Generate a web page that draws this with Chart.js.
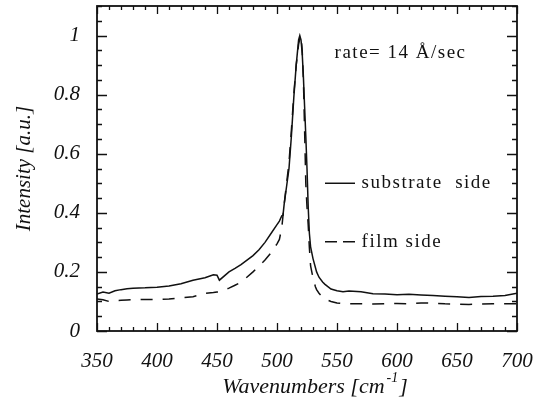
<!DOCTYPE html>
<html>
<head>
<meta charset="utf-8">
<script src="https://cdn.jsdelivr.net/npm/chart.js@4.4.0/dist/chart.umd.min.js"></script>
<style>
  body { margin: 0; background: #fff; }
  #wrap { width: 537px; height: 402px; position: relative; }
</style>
</head>
<body>
<div id="wrap"><canvas id="raman"></canvas></div>
<script>
// Raman spectra, values
var wavenumbers = [350, 355, 360, 365, 370, 375, 380, 390, 400, 410, 420, 430, 440,
  447, 450, 452, 460, 465, 470, 480, 485, 490, 495, 500, 502, 504, 505, 506, 508,
  510, 512, 514, 516, 518, 519, 520, 521, 522, 523, 524, 525, 526, 527, 528,
  530, 532, 533, 535, 538, 540, 545, 550, 555, 560, 570, 580, 590, 600, 610,
  620, 630, 640, 650, 660, 670, 680, 690, 700];

var substrateSide = [0.125, 0.132, 0.128, 0.136, 0.14, 0.143, 0.145, 0.146, 0.148, 0.152, 0.16, 0.172, 0.18,
  0.19, 0.189, 0.172, 0.2, 0.212, 0.225, 0.255, 0.275, 0.3, 0.33, 0.36, 0.372, 0.39, 0.392, 0.43, 0.49,
  0.55, 0.66, 0.79, 0.9, 0.985, 1.0, 0.985, 0.94, 0.86, 0.76, 0.66, 0.55, 0.42, 0.33, 0.285,
  0.245, 0.215, 0.2, 0.182, 0.166, 0.158, 0.142, 0.136, 0.133, 0.135, 0.133, 0.126, 0.125, 0.123, 0.124,
  0.122, 0.12, 0.118, 0.116, 0.113, 0.117, 0.118, 0.12, 0.128];

var filmSide = [0.108, 0.106, 0.1, 0.103, 0.104, 0.105, 0.106, 0.107, 0.107, 0.108, 0.112, 0.116, 0.127,
  0.13, 0.132, 0.133, 0.145, 0.155, 0.165, 0.2, 0.22, 0.24, 0.265, 0.295, 0.31, 0.35, 0.39, 0.43, 0.5,
  0.57, 0.68, 0.8, 0.9, 0.97, 0.99, 1.0, 0.95, 0.85, 0.68, 0.5, 0.42, 0.36, 0.28, 0.22,
  0.18, 0.15, 0.14, 0.128, 0.114, 0.108, 0.1, 0.095, 0.093, 0.092, 0.092, 0.091, 0.092, 0.093, 0.092,
  0.095, 0.094, 0.092, 0.091, 0.09, 0.091, 0.092, 0.092, 0.092];

var seriesNames = ["substrate  side", "film side"];
var xTicks = [350, 400, 450, 500, 550, 600, 650, 700];
var yTicks = [0, 0.2, 0.4, 0.6, 0.8, 1];
var rateNote = "rate= 14 \u00c5/sec";

function toPoints(ys) {
  return wavenumbers.map(function(x, i) { return { x: x, y: ys[i] }; });
}

// frame, inward ticks, legend and notes
var decor = {
  id: 'decor',
  afterDraw: function(chart) {
    var c = chart.ctx, a = chart.chartArea;
    var xs = chart.scales.x, ys = chart.scales.y;
    c.save();
    c.strokeStyle = '#111';
    c.lineWidth = 1.3;
    c.beginPath();
    for (var v = 350; v <= 700; v += 10) {
      var px = Math.round(xs.getPixelForValue(v)) + 0.5;
      var l = v % 50 === 0 ? 8 : 4;
      c.moveTo(px, a.bottom); c.lineTo(px, a.bottom - l);
      c.moveTo(px, a.top); c.lineTo(px, a.top + l);
    }
    for (var i = 0; i <= 22; i++) {
      var py = Math.round(ys.getPixelForValue(i * 0.05)) + 0.5;
      var ly = i % 4 === 0 ? 10 : 5;
      c.moveTo(a.left, py); c.lineTo(a.left + ly, py);
      c.moveTo(a.right, py); c.lineTo(a.right - ly, py);
    }
    c.stroke();
    c.lineWidth = 1.8;
    c.strokeRect(a.left, a.top, a.right - a.left, a.bottom - a.top);

    // legend
    c.fillStyle = '#111';
    c.font = "19px 'Liberation Serif'";
    c.textBaseline = 'middle';
    c.textAlign = 'left';
    c.letterSpacing = '1.5px';
    var rows = [0.5, 0.302];
    chart.data.datasets.forEach(function(ds, k) {
      var y = ys.getPixelForValue(rows[k]);
      c.lineWidth = 1.5;
      c.setLineDash(k === 0 ? [] : [12, 6]);
      c.beginPath();
      c.moveTo(xs.getPixelForValue(540), y);
      c.lineTo(xs.getPixelForValue(565), y);
      c.stroke();
      c.setLineDash([]);
      c.fillText(ds.label, xs.getPixelForValue(570.5), y);
    });
    c.fillText(rateNote, xs.getPixelForValue(548), ys.getPixelForValue(0.94));

    // x axis title with superscript
    c.letterSpacing = '0px';
    var main = "Wavenumbers [cm", sup = "-1", end = "]";
    c.font = "italic 22px 'Liberation Serif'";
    var w1 = c.measureText(main).width, w3 = c.measureText(end).width;
    c.font = "italic 14px 'Liberation Serif'";
    var w2 = c.measureText(sup).width + 3;
    var x0 = (a.left + a.right) / 2 + 8 - (w1 + w2 + w3) / 2;
    var ty = 387;
    c.font = "italic 22px 'Liberation Serif'";
    c.fillText(main, x0, ty);
    c.fillText(end, x0 + w1 + w2, ty);
    c.font = "italic 14px 'Liberation Serif'";
    c.fillText(sup, x0 + w1 + 2, ty - 9);
    c.restore();
  }
};

var ctx = document.getElementById('raman').getContext('2d');
var ramanChart = new Chart(ctx, {
  type: 'line',
  plugins: [decor],
  data: {
    datasets: [{
      label: seriesNames[0],
      data: toPoints(substrateSide),
      borderColor: '#111',
      borderWidth: 1.5,
      pointRadius: 0,
      tension: 0
    }, {
      label: seriesNames[1],
      data: toPoints(filmSide),
      borderColor: '#111',
      borderWidth: 1.5,
      borderDash: [12, 10],
      pointRadius: 0,
      tension: 0
    }]
  },
  options: {
    responsive: true,
    maintainAspectRatio: false,
    animation: false,
    layout: { padding: { top: 6, right: 20, left: 0, bottom: 0 } },
    plugins: {
      legend: { display: false },
      tooltip: { enabled: false }
    },
    scales: {
      x: {
        type: 'linear',
        min: 350,
        max: 700,
        afterBuildTicks: function(scale) {
          scale.ticks = xTicks.map(function(v) { return { value: v }; });
        },
        afterFit: function(scale) {
          scale.height = 71;
          scale.paddingLeft = 0;
          scale.paddingRight = 0;
        },
        grid: { display: false, drawTicks: false },
        border: { display: false },
        ticks: {
          color: '#111',
          padding: 18,
          maxRotation: 0,
          font: { family: "'Liberation Serif'", style: 'italic', size: 21 }
        }
      },
      y: {
        min: 0,
        max: 1.1,
        afterBuildTicks: function(scale) {
          scale.ticks = yTicks.map(function(v) { return { value: v }; });
        },
        afterFit: function(scale) {
          scale.width = 97;
          scale.paddingTop = 0;
          scale.paddingBottom = 0;
        },
        grid: { display: false, drawTicks: false },
        border: { display: false },
        ticks: {
          color: '#111',
          padding: 17,
          callback: function(value) { return String(value); },
          font: { family: "'Liberation Serif'", style: 'italic', size: 21 }
        },
        title: {
          display: true,
          text: 'Intensity [a.u.]',
          color: '#111',
          padding: { top: 12, bottom: 0 },
          font: { family: "'Liberation Serif'", style: 'italic', size: 21 }
        }
      }
    }
  }
});
</script>
</body>
</html>
